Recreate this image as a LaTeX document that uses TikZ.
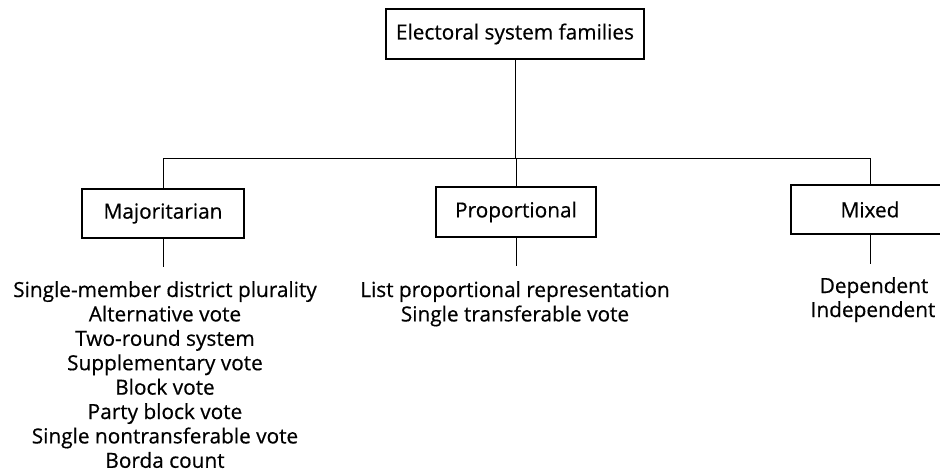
\documentclass[tikz,border=0pt]{standalone}
\usepackage{fontspec}
\setmainfont{Open Sans}[FakeBold=0.5]
\begin{document}
\begin{tikzpicture}[x=1pt,y=-1pt,
  famfont/.style={font=\fontsize{20.8}{23}\selectfont},
  famBox/.style={draw=black, line width=1.4pt, inner sep=0pt, famfont, fill=white},
  item/.style={anchor=base, inner sep=0pt, famfont},
  link/.style={draw=black, line width=0.9pt}]
\useasboundingbox (0,0) rectangle (940,476);
\clip (0,0) rectangle (940,476);
\fill[white] (0,0) rectangle (940,476);

\node[famBox, minimum width=258pt, minimum height=50pt] (top) at (515,34) {Electoral system families};
\node[famBox, minimum width=162pt, minimum height=49pt] (maj) at (163,213.5) {Majoritarian};
\node[famBox, minimum width=160pt, minimum height=50pt] (pro) at (516,212) {Proportional};
\node[famBox, minimum width=158pt, minimum height=49pt] (mix) at (870,209.5) {Mixed};

\coordinate (hub) at (515,158);
\coordinate (hl) at (163,158);
\coordinate (hr) at (870,158);
\coordinate (majend) at (163,267);
\coordinate (proend) at (516,266);
\coordinate (mixend) at (870,264);

\draw[link] (top.south) -- (hub);
\draw[link] (maj.north) -- (hl) -- (hr) -- (mix.north);
\draw[link] (hub -| pro.north) -- (pro.north);
\draw[link] (maj.south) -- (majend);
\draw[link] (pro.south) -- (proend);
\draw[link] (mix.south) -- (mixend);

\node[item] (m1) at (165,297) {Single-member district plurality};
\node[item] (m2) at (165,321.4) {Alternative vote};
\node[item] (m3) at (165,345.8) {Two-round system};
\node[item] (m4) at (165,370.2) {Supplementary vote};
\node[item] (m5) at (165,394.6) {Block vote};
\node[item] (m6) at (165,419) {Party block vote};
\node[item] (m7) at (165,443.4) {Single nontransferable vote};
\node[item] (m8) at (165,467.8) {Borda count};

\node[item] (p1) at (515,297) {List proportional representation};
\node[item] (p2) at (515,321.4) {Single transferable vote};

\node[item] (x1) at (874,293) {Dependent};
\node[item] (x2) at (873,317) {Independent};
\end{tikzpicture}
\end{document}
